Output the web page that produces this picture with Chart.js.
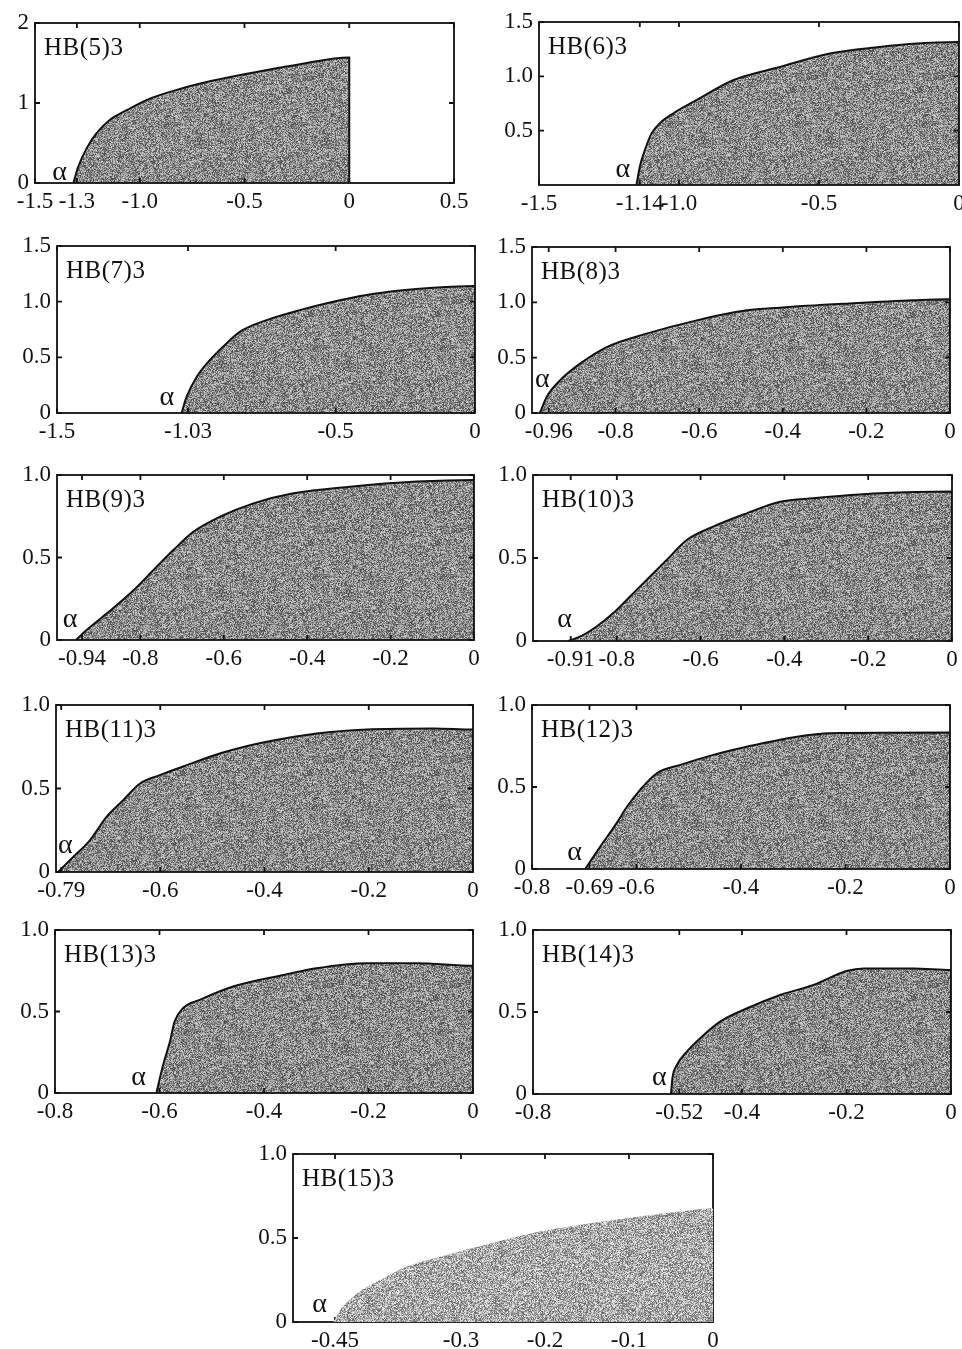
<!DOCTYPE html>
<html>
<head>
<meta charset="utf-8">
<script src="https://cdn.jsdelivr.net/npm/chart.js@4.4.1/dist/chart.umd.min.js"></script>
<style>
  html, body { margin: 0; padding: 0; background: #fff; width: 962px; height: 1349px; overflow: hidden; position: relative; }
  canvas { position: absolute; }
</style>
</head>
<body>
<script>
// curve values (x = parameter, y = height of region)
const hb5X  = [-1.317, -1.293, -1.253, -1.207, -1.142, -1.062, -0.966, -0.808, -0.649, -0.458, -0.235, 0, 0];
const hb5Y  = [0, 0.207, 0.436, 0.62, 0.79, 0.91, 1.04, 1.175, 1.28, 1.38, 1.485, 1.57, 0];
const hb6X  = [-1.152, -1.14, -1.122, -1.098, -1.069, -1.021, -0.938, -0.807, -0.64, -0.461, -0.283, -0.164, 0, 0];
const hb6Y  = [0, 0.168, 0.32, 0.475, 0.567, 0.658, 0.78, 0.964, 1.086, 1.21, 1.27, 1.30, 1.315, 0];
const hb7X  = [-1.053, -1.035, -0.999, -0.952, -0.892, -0.844, -0.748, -0.629, -0.509, -0.389, -0.269, -0.15, 0, 0];
const hb7Y  = [0, 0.144, 0.324, 0.474, 0.624, 0.729, 0.834, 0.924, 1.0, 1.06, 1.10, 1.125, 1.14, 0];
const hb8X  = [-0.981, -0.965, -0.933, -0.885, -0.821, -0.726, -0.606, -0.486, -0.407, -0.247, -0.088, 0, 0];
const hb8Y  = [0, 0.145, 0.295, 0.446, 0.596, 0.717, 0.837, 0.928, 0.952, 0.988, 1.018, 1.027, 0];
const hb9X  = [-0.955, -0.929, -0.881, -0.817, -0.761, -0.721, -0.673, -0.609, -0.529, -0.433, -0.297, -0.137, 0, 0];
const hb9Y  = [0, 0.06, 0.16, 0.30, 0.444, 0.545, 0.656, 0.747, 0.828, 0.889, 0.929, 0.96, 0.97, 0];
const hb10X = [-0.916, -0.888, -0.849, -0.809, -0.769, -0.729, -0.681, -0.633, -0.57, -0.49, -0.41, -0.331, -0.171, 0, 0];
const hb10Y = [0, 0.026, 0.086, 0.167, 0.267, 0.367, 0.488, 0.608, 0.689, 0.769, 0.839, 0.86, 0.89, 0.90, 0];
const hb11X = [-0.796, -0.767, -0.735, -0.703, -0.671, -0.639, -0.601, -0.549, -0.486, -0.396, -0.3, -0.204, -0.076, 0, 0];
const hb11Y = [0, 0.09, 0.19, 0.33, 0.43, 0.53, 0.58, 0.64, 0.71, 0.78, 0.83, 0.854, 0.86, 0.854, 0];
const hb12X = [-0.698, -0.669, -0.638, -0.618, -0.593, -0.561, -0.516, -0.453, -0.389, -0.293, -0.229, 0, 0];
const hb12Y = [0, 0.138, 0.28, 0.381, 0.483, 0.584, 0.635, 0.696, 0.746, 0.807, 0.828, 0.832, 0];
const hb13X = [-0.606, -0.593, -0.58, -0.571, -0.555, -0.523, -0.459, -0.363, -0.3, -0.204, -0.108, 0, 0];
const hb13Y = [0, 0.173, 0.316, 0.439, 0.52, 0.571, 0.653, 0.724, 0.765, 0.796, 0.796, 0.781, 0];
const hb14X = [-0.536, -0.533, -0.524, -0.505, -0.48, -0.442, -0.39, -0.327, -0.263, -0.2, -0.167, -0.072, 0, 0];
const hb14Y = [0, 0.10, 0.18, 0.26, 0.34, 0.441, 0.523, 0.604, 0.665, 0.75, 0.766, 0.766, 0.756, 0];
const hb15X = [-0.452, -0.444, -0.424, -0.397, -0.365, -0.325, -0.265, -0.206, -0.146, -0.087, -0.039, 0, 0];
const hb15Y = [0, 0.07, 0.17, 0.249, 0.329, 0.388, 0.468, 0.538, 0.588, 0.628, 0.657, 0.677, 0];

// tick values and their labels
const ticksX5  = [-1.5, -1.3, -1.0, -0.5, 0, 0.5];  const labelsX5  = ['-1.5', '-1.3', '-1.0', '-0.5', '0', '0.5'];
const ticksX6  = [-1.5, -1.14, -1.0, -0.5, 0];      const labelsX6  = ['-1.5', '-1.14', '-1.0', '-0.5', '0'];
const ticksX7  = [-1.5, -1.03, -0.5, 0];            const labelsX7  = ['-1.5', '-1.03', '-0.5', '0'];
const ticksX8  = [-0.96, -0.8, -0.6, -0.4, -0.2, 0]; const labelsX8  = ['-0.96', '-0.8', '-0.6', '-0.4', '-0.2', '0'];
const ticksX9  = [-0.94, -0.8, -0.6, -0.4, -0.2, 0]; const labelsX9  = ['-0.94', '-0.8', '-0.6', '-0.4', '-0.2', '0'];
const ticksX10 = [-0.91, -0.8, -0.6, -0.4, -0.2, 0]; const labelsX10 = ['-0.91', '-0.8', '-0.6', '-0.4', '-0.2', '0'];
const ticksX11 = [-0.79, -0.6, -0.4, -0.2, 0];      const labelsX11 = ['-0.79', '-0.6', '-0.4', '-0.2', '0'];
const ticksX12 = [-0.8, -0.69, -0.6, -0.4, -0.2, 0]; const labelsX12 = ['-0.8', '-0.69', '-0.6', '-0.4', '-0.2', '0'];
const ticksX13 = [-0.8, -0.6, -0.4, -0.2, 0];       const labelsX13 = ['-0.8', '-0.6', '-0.4', '-0.2', '0'];
const ticksX14 = [-0.8, -0.52, -0.4, -0.2, 0];      const labelsX14 = ['-0.8', '-0.52', '-0.4', '-0.2', '0'];
const ticksX15 = [-0.45, -0.3, -0.2, -0.1, 0];      const labelsX15 = ['-0.45', '-0.3', '-0.2', '-0.1', '0'];

const ticksY2   = [0, 1, 2];           const labelsY2   = ['0', '1', '2'];
const ticksY15a = [0.5, 1.0, 1.5];     const labelsY15a = ['0.5', '1.0', '1.5'];
const ticksY15  = [0, 0.5, 1.0, 1.5];  const labelsY15  = ['0', '0.5', '1.0', '1.5'];
const ticksY1   = [0, 0.5, 1.0];       const labelsY1   = ['0', '0.5', '1.0'];

const FONT = '"Liberation Serif", "Times New Roman", Times, serif';
const YW = 60, XH = 40, PT = 16, PR = 30;

// box = plot area in page pixels [left, top, right, bottom]; alpha = label offset from curve start
const panels = [
  { name: 'HB(5)3',  xs: hb5X,  ys: hb5Y,  xMin: -1.5, xMax: 0.5, yMax: 2,   tx: ticksX5,  lx: labelsX5,  ty: ticksY2,   ly: labelsY2,   box: [35, 23, 454, 183],    alpha: [-21, -3] },
  { name: 'HB(6)3',  xs: hb6X,  ys: hb6Y,  xMin: -1.5, xMax: 0,   yMax: 1.5, tx: ticksX6,  lx: labelsX6,  ty: ticksY15a, ly: labelsY15a, box: [539, 22, 959, 185],   alpha: [-21, -8] },
  { name: 'HB(7)3',  xs: hb7X,  ys: hb7Y,  xMin: -1.5, xMax: 0,   yMax: 1.5, tx: ticksX7,  lx: labelsX7,  ty: ticksY15,  ly: labelsY15,  box: [57, 246, 475, 413],   alpha: [-22, -8] },
  { name: 'HB(8)3',  xs: hb8X,  ys: hb8Y,  xMin: -1.0, xMax: 0,   yMax: 1.5, tx: ticksX8,  lx: labelsX8,  ty: ticksY15,  ly: labelsY15,  box: [532, 247, 950, 413],  alpha: [-5, -26] },
  { name: 'HB(9)3',  xs: hb9X,  ys: hb9Y,  xMin: -1.0, xMax: 0,   yMax: 1,   tx: ticksX9,  lx: labelsX9,  ty: ticksY1,   ly: labelsY1,   box: [57, 475, 474, 640],   alpha: [-13, -13] },
  { name: 'HB(10)3', xs: hb10X, ys: hb10Y, xMin: -1.0, xMax: 0,   yMax: 1,   tx: ticksX10, lx: labelsX10, ty: ticksY1,   ly: labelsY1,   box: [533, 475, 952, 641],  alpha: [-11, -14] },
  { name: 'HB(11)3', xs: hb11X, ys: hb11Y, xMin: -0.8, xMax: 0,   yMax: 1,   tx: ticksX11, lx: labelsX11, ty: ticksY1,   ly: labelsY1,   box: [56, 705, 473, 872],   alpha: [0, -19] },
  { name: 'HB(12)3', xs: hb12X, ys: hb12Y, xMin: -0.8, xMax: 0,   yMax: 1,   tx: ticksX12, lx: labelsX12, ty: ticksY1,   ly: labelsY1,   box: [532, 705, 950, 869],  alpha: [-18, -9] },
  { name: 'HB(13)3', xs: hb13X, ys: hb13Y, xMin: -0.8, xMax: 0,   yMax: 1,   tx: ticksX13, lx: labelsX13, ty: ticksY1,   ly: labelsY1,   box: [55, 930, 473, 1093],  alpha: [-25, -8] },
  { name: 'HB(14)3', xs: hb14X, ys: hb14Y, xMin: -0.8, xMax: 0,   yMax: 1,   tx: ticksX14, lx: labelsX14, ty: ticksY1,   ly: labelsY1,   box: [533, 930, 951, 1094], alpha: [-19, -9] },
  { name: 'HB(15)3', xs: hb15X, ys: hb15Y, xMin: -0.5, xMax: 0,   yMax: 1,   tx: ticksX15, lx: labelsX15, ty: ticksY1,   ly: labelsY1,   box: [293, 1154, 713, 1322], alpha: [-21, -10], light: true }
];

// speckled grey tile for the filled regions (deterministic hash, not data)
function hash(i) {
  let x = Math.imul(i ^ 0x9e3779b9, 0x85ebca6b);
  x ^= x >>> 13;
  x = Math.imul(x, 0xc2b2ae35);
  x ^= x >>> 16;
  return (x >>> 0) / 4294967296;
}
function makeTile(base, range, seed) {
  const t = document.createElement('canvas');
  t.width = 127; t.height = 127;
  const c = t.getContext('2d');
  const img = c.createImageData(127, 127);
  for (let i = 0; i < 127 * 127; i++) {
    const g = Math.round(base + hash(i * 2654435 + seed) * range);
    img.data[i * 4] = g; img.data[i * 4 + 1] = g; img.data[i * 4 + 2] = g; img.data[i * 4 + 3] = 255;
  }
  c.putImageData(img, 0, 0);
  return t;
}
const darkTile = makeTile(72, 135, 17);
const lightTile = makeTile(100, 140, 91);

function drawFrame(chart) {
  const { ctx, chartArea: a, scales: { x, y } } = chart;
  ctx.save();
  ctx.strokeStyle = '#111';
  ctx.lineWidth = 1.8;
  ctx.strokeRect(a.left, a.top, a.right - a.left, a.bottom - a.top);
  ctx.beginPath();
  x.ticks.forEach(t => {
    const px = x.getPixelForValue(t.value);
    ctx.moveTo(px, a.top); ctx.lineTo(px, a.top + 5);
    ctx.moveTo(px, a.bottom); ctx.lineTo(px, a.bottom - 5);
  });
  y.ticks.forEach(t => {
    const py = y.getPixelForValue(t.value);
    ctx.moveTo(a.left, py); ctx.lineTo(a.left + 5, py);
    ctx.moveTo(a.right, py); ctx.lineTo(a.right - 5, py);
  });
  ctx.stroke();
  ctx.restore();
}

const framePlugin = {
  id: 'frame',
  beforeDatasetsDraw(chart, args, opts) {
    if (opts.under) drawFrame(chart);
  },
  afterDatasetsDraw(chart, args, opts) {
    if (!opts.under) drawFrame(chart);
    const { ctx, chartArea: a, scales: { x } } = chart;
    ctx.save();
    ctx.fillStyle = '#111';
    ctx.textBaseline = 'alphabetic';
    ctx.font = '25px ' + FONT;
    ctx.letterSpacing = '0.5px';
    ctx.fillText(opts.title, a.left + 9, a.top + 32);
    ctx.letterSpacing = '0px';
    ctx.font = '28px ' + FONT;
    ctx.fillText('α', x.getPixelForValue(opts.start) + opts.alpha[0], a.bottom + opts.alpha[1]);
    ctx.restore();
  }
};

panels.forEach(p => {
  const [l, t, r, b] = p.box;
  const canvas = document.createElement('canvas');
  canvas.width = (r - l) + YW + PR;
  canvas.height = (b - t) + PT + XH;
  canvas.style.left = (l - YW) + 'px';
  canvas.style.top = (t - PT) + 'px';
  document.body.appendChild(canvas);
  const ctx = canvas.getContext('2d');
  const pattern = ctx.createPattern(p.light ? lightTile : darkTile, 'repeat');

  const tickFont = { family: FONT, size: 23 };
  new Chart(ctx, {
    type: 'line',
    data: {
      datasets: [{
        data: p.xs.map((v, i) => ({ x: v, y: p.ys[i] })),
        borderColor: '#111',
        borderWidth: p.light ? 0 : 2,
        backgroundColor: pattern,
        fill: 'origin',
        pointRadius: 0,
        cubicInterpolationMode: 'monotone'
      }]
    },
    options: {
      responsive: false,
      animation: false,
      events: [],
      layout: { padding: { top: PT, right: PR, left: 0, bottom: 0 } },
      plugins: {
        legend: { display: false },
        tooltip: { enabled: false },
        frame: { title: p.name, start: p.xs[0], alpha: p.alpha, under: !!p.light }
      },
      scales: {
        x: {
          type: 'linear',
          min: p.xMin,
          max: p.xMax,
          afterBuildTicks: s => { s.ticks = p.tx.map(v => ({ value: v })); },
          afterFit: s => { s.height = XH; s.paddingLeft = 0; s.paddingRight = 0; },
          grid: { display: false, drawTicks: false },
          border: { display: false },
          ticks: {
            autoSkip: false, maxRotation: 0, padding: 5, color: '#111', font: tickFont,
            callback: (v, i) => p.lx[i]
          }
        },
        y: {
          min: 0,
          max: p.yMax,
          afterBuildTicks: s => { s.ticks = p.ty.map(v => ({ value: v })); },
          afterFit: s => { s.width = YW; s.paddingTop = 0; s.paddingBottom = 0; },
          grid: { display: false, drawTicks: false },
          border: { display: false },
          ticks: {
            autoSkip: false, padding: 6, color: '#111', font: tickFont,
            callback: (v, i) => p.ly[i]
          }
        }
      }
    },
    plugins: [framePlugin]
  });
});
</script>
</body>
</html>
